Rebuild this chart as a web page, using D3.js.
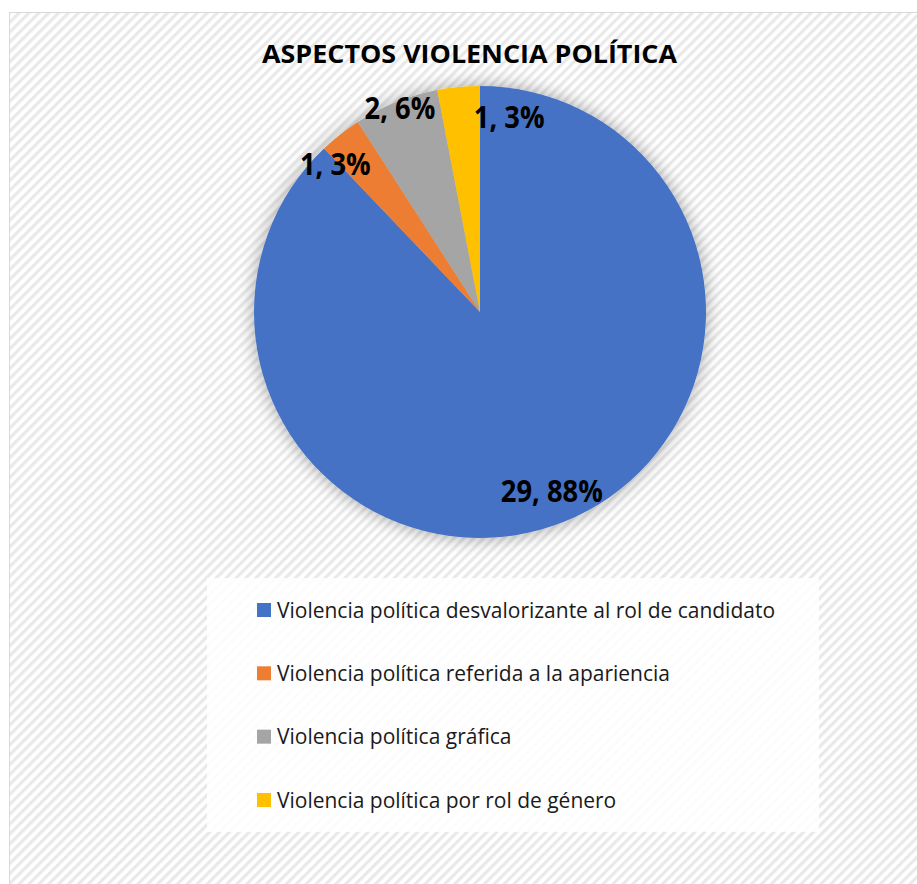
<!DOCTYPE html>
<html>
<head>
<meta charset="utf-8">
<script src="https://cdn.jsdelivr.net/npm/d3@7"></script>
<style>
  html, body { margin: 0; padding: 0; background: #ffffff; }
  svg { display: block; }
</style>
</head>
<body>
<script>
// ---- data ----
const title = "ASPECTOS VIOLENCIA POLÍTICA";
const categories = [
  "Violencia política desvalorizante al rol de candidato",
  "Violencia política referida a la apariencia",
  "Violencia política gráfica",
  "Violencia política por rol de género"
];
const values = [29, 1, 2, 1];
const colors = ["#4472C4", "#ED7D31", "#A5A5A5", "#FFC000"];

// ---- layout ----
const W = 917, H = 884;
const FONT = "'Open Sans', 'Liberation Sans', sans-serif";
const cx = 480, cy = 312, R = 226;
// label placement: radius factor and angular shift (degrees) from slice mid angle
const labelLayout = [
  { r: 0.855, da: 0 },
  { r: 0.915, da: -6.2 },
  { r: 0.97, da: 0.4 },
  { r: 0.87, da: 14 }
];

const svg = d3.select("body").append("svg").attr("width", W).attr("height", H);
const defs = svg.append("defs");

// hatch pattern
const pat = defs.append("pattern")
  .attr("id", "hatch").attr("patternUnits", "userSpaceOnUse")
  .attr("width", 7).attr("height", 7)
  .attr("patternTransform", "rotate(45)");
pat.append("rect").attr("width", 7).attr("height", 7).attr("fill", "#ffffff");
pat.append("rect").attr("x", 0).attr("width", 3.2).attr("height", 7).attr("fill", "#e9e9e9");

const filt = defs.append("filter").attr("id", "shadow")
  .attr("x", "-20%").attr("y", "-20%").attr("width", "140%").attr("height", "140%");
filt.append("feDropShadow").attr("dx", 0).attr("dy", 0)
  .attr("stdDeviation", 9).attr("flood-color", "#000").attr("flood-opacity", 0.35);

// chart area
svg.append("rect").attr("x", 9.5).attr("y", 12.5).attr("width", W + 20).attr("height", H + 20)
  .attr("fill", "url(#hatch)").attr("stroke", "#d9d9d9").attr("stroke-width", 1);

// width fitter: keep height from font-size, squeeze width to target
function squeeze(sel, ratio) {
  sel.each(function () {
    const w = this.getComputedTextLength();
    d3.select(this).attr("textLength", w * ratio).attr("lengthAdjust", "spacingAndGlyphs");
  });
}

// title
const titleText = svg.append("text")
  .attr("x", 469.5).attr("y", 63)
  .attr("text-anchor", "middle")
  .attr("font-family", FONT).attr("font-weight", "bold")
  .attr("font-size", 25).attr("fill", "#000")
  .text(title);
squeeze(titleText, 415 / titleText.node().getComputedTextLength());

// pie
const total = d3.sum(values);
const pie = d3.pie().sort(null).value(d => d);
const arcs = pie(values);
const arc = d3.arc().innerRadius(0).outerRadius(R);

const g = svg.append("g").attr("transform", `translate(${cx},${cy})`);
const slices = g.append("g").attr("filter", "url(#shadow)");
slices.selectAll("path").data(arcs).enter().append("path")
  .attr("d", arc)
  .attr("fill", (d, i) => colors[i]);

// data labels
const labels = g.selectAll("text.lbl").data(arcs).enter().append("text")
  .attr("class", "lbl")
  .attr("font-family", FONT).attr("font-weight", "bold")
  .attr("font-size", 29.5).attr("fill", "#000")
  .attr("text-anchor", "middle")
  .attr("dy", "0.36em")
  .text(d => `${d.value}, ${Math.round(d.value / total * 100)}%`)
  .attr("transform", (d, i) => {
    const L = labelLayout[i];
    const a = (d.startAngle + d.endAngle) / 2 + L.da * Math.PI / 180;
    const rr = R * L.r;
    return `translate(${rr * Math.sin(a)},${-rr * Math.cos(a)})`;
  });
squeeze(labels, 102 / labels.nodes()[0].getComputedTextLength());

// legend
const legX = 207, legY = 578, legW = 612, legH = 254;
svg.append("rect").attr("x", legX).attr("y", legY).attr("width", legW).attr("height", legH)
  .attr("fill", "#ffffff").attr("fill-opacity", 0.85);
const rowY = d3.scalePoint().domain(categories).range([610, 800]);
const leg = svg.append("g").selectAll("g").data(categories).enter().append("g")
  .attr("transform", d => `translate(257,${rowY(d)})`);
leg.append("rect").attr("x", 0).attr("y", -7).attr("width", 14).attr("height", 14)
  .attr("fill", (d, i) => colors[i]);
const legText = leg.append("text").attr("x", 20).attr("y", 0).attr("dy", "0.36em")
  .attr("font-family", FONT).attr("font-size", 21.5).attr("fill", "#1a1a1a")
  .text(d => d);
squeeze(legText, 498 / legText.nodes()[0].getComputedTextLength());
</script>
</body>
</html>
